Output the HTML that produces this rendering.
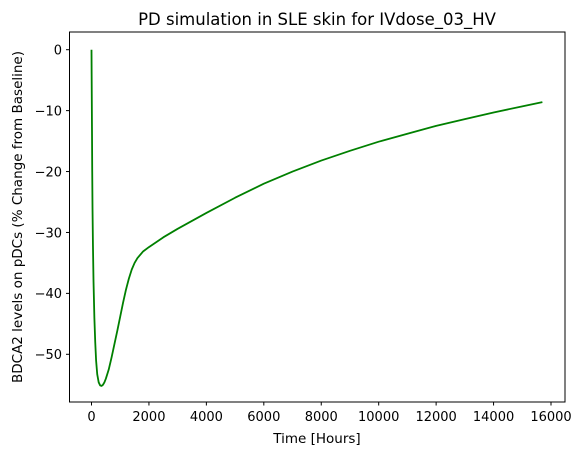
<!DOCTYPE html>
<html><head><meta charset="utf-8"><style>
body{margin:0;background:#fff;}
svg{font-family:"DejaVu Sans","Liberation Sans",sans-serif;}
</style></head><body>
<svg id="chart" width="582" height="455">
<rect width="582" height="455" fill="#fff"/>
<text x="317" y="25" font-size="16.5" text-anchor="middle">PD simulation in SLE skin for IVdose_03_HV</text>
<g id="ticks"></g>
<path id="line" fill="none" stroke="#008000" stroke-width="1.8" stroke-linejoin="round"/>
<rect x="69.5" y="32" width="495.5" height="370" fill="none" stroke="#000" stroke-width="1"/>
<text x="317" y="443" font-size="13.5" text-anchor="middle">Time [Hours]</text>
<text transform="translate(22,217) rotate(-90)" font-size="13.5" text-anchor="middle">BDCA2 levels on pDCs (% Change from Baseline)</text>
</svg>
<script>
const times=[0,5,10,18,25,35,50,70,100,130,160,200,250,300,350,400,450,500,600,700,800,900,1000,1100,1200,1300,1400,1500,1600,1800,2000,2500,3000,4000,5000,6000,7000,8000,9000,10000,11000,12000,13000,14000,15000,15700];
const values=[0,-4,-8,-14,-20,-26,-32,-38,-44,-48,-51,-53.3,-54.6,-55.1,-55.2,-55,-54.6,-54,-52.5,-50.5,-48.3,-46.1,-43.8,-41.5,-39.4,-37.6,-36.1,-35,-34.2,-33.1,-32.4,-30.8,-29.4,-26.8,-24.3,-22,-20,-18.2,-16.6,-15.1,-13.8,-12.5,-11.4,-10.3,-9.3,-8.6];
const xTicks=[0,2000,4000,6000,8000,10000,12000,14000,16000];
const yTicks=[0,-10,-20,-30,-40,-50];
function sx(t){return 91.5+t*(551-91.5)/16000;}
function sy(v){return 49.7+(-v)*(354.3-49.7)/50;}
const ns="http://www.w3.org/2000/svg";
const g=document.getElementById('ticks');
xTicks.forEach(t=>{
 const l=document.createElementNS(ns,'line');
 l.setAttribute('x1',sx(t));l.setAttribute('x2',sx(t));l.setAttribute('y1',402);l.setAttribute('y2',405.5);l.setAttribute('stroke','#000');
 
 
 g.appendChild(l);
 const tx=document.createElementNS(ns,'text');
 tx.setAttribute('x',sx(t));tx.setAttribute('y',421);tx.setAttribute('font-size','13');tx.setAttribute('text-anchor','middle');
 tx.textContent=t;
 
 
 g.appendChild(tx);
});
yTicks.forEach(v=>{
 const l=document.createElementNS(ns,'line');
 l.setAttribute('x1',66);l.setAttribute('x2',69.5);l.setAttribute('y1',sy(v));l.setAttribute('y2',sy(v));l.setAttribute('stroke','#000');
 
 
 g.appendChild(l);
 const tx=document.createElementNS(ns,'text');
 tx.setAttribute('x',62);tx.setAttribute('y',sy(v)+4.8);tx.setAttribute('font-size','13');tx.setAttribute('text-anchor','end');
 tx.textContent=v<0?'\u2212'+(-v):v;
 
 
 g.appendChild(tx);
});
document.getElementById('line').setAttribute('d',times.map((t,i)=>(i?'L':'M')+sx(t).toFixed(2)+','+sy(values[i]).toFixed(2)).join(''));
</script>
</body></html>
